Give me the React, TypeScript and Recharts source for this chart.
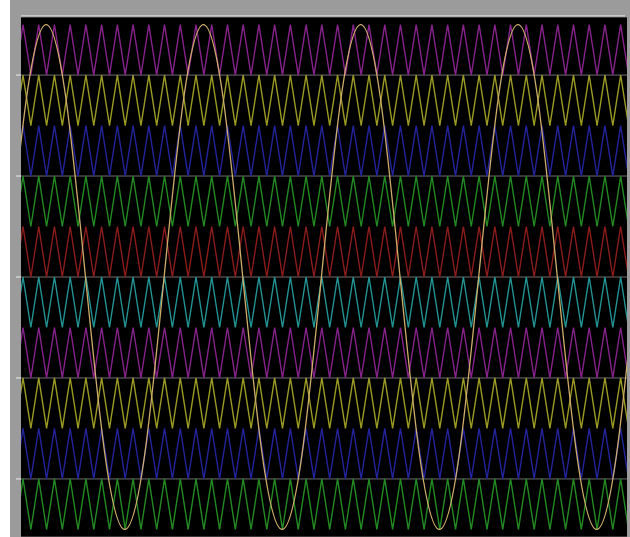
import { LineChart, Line, XAxis, YAxis, CartesianGrid } from "recharts";

// time axis in reference-wave cycles
const tEnd = 3.853;

// triangular carriers: first vertex, half period, vertex count
const carrierStart = -0.0373;
const carrierHalf = 0.05;
const carrierVertexCount = 80;

const bandLow = [0.8, 0.6, 0.4, 0.2, 0, -0.2, -0.4, -0.6, -0.8, -1];
const bandHigh = [1, 0.8, 0.6, 0.4, 0.2, 0, -0.2, -0.4, -0.6, -0.8];
const carrierColors = [
  "#85238a",
  "#9a9a24",
  "#23239a",
  "#238a23",
  "#8a1c1c",
  "#239494",
  "#85238a",
  "#9a9a24",
  "#23239a",
  "#238a23",
];

// reference (modulating) wave, read at every 1/8 cycle
const refTimes = [
  -0.09, 0.035, 0.16, 0.285, 0.41, 0.535, 0.66, 0.785, 0.91, 1.035, 1.16,
  1.285, 1.41, 1.535, 1.66, 1.785, 1.91, 2.035, 2.16, 2.285, 2.41, 2.535, 2.66,
  2.785, 2.91, 3.035, 3.16, 3.285, 3.41, 3.535, 3.66, 3.785, 3.91,
];
const refValues = [
  0, 0.71, 1, 0.71, 0, -0.71, -1, -0.71, 0, 0.71, 1, 0.71, 0, -0.71, -1, -0.71,
  0, 0.71, 1, 0.71, 0, -0.71, -1, -0.71, 0, 0.71, 1, 0.71, 0, -0.71, -1, -0.71,
  0,
];

const yTicks = [0.8, 0.4, 0, -0.4, -0.8];
const xTicks = [0.16, 0.66, 1.16, 1.66, 2.16, 2.66, 3.16, 3.66];

const carriers = bandLow.map((lo, i) =>
  Array.from({ length: carrierVertexCount }, (_, k) => ({
    t: carrierStart + k * carrierHalf,
    v: k % 2 === 0 ? lo : bandHigh[i],
  }))
);
const refData = refTimes.map((t, i) => ({ t, v: refValues[i] }));

export default function App() {
  return (
    <div
      style={{
        position: "absolute",
        left: 0,
        top: 0,
        width: 630,
        height: 537,
        background: "#fff",
        overflow: "hidden",
      }}
    >
      <div
        style={{
          position: "absolute",
          left: 10,
          top: 0,
          width: 620,
          height: 537,
          background: "#9b9b9b",
        }}
      />
      <div
        style={{
          position: "absolute",
          left: 21,
          top: 15,
          width: 604,
          height: 2,
          background: "#c8c8c8",
        }}
      />
      <div style={{ position: "absolute", left: 10, top: 0 }}>
        <LineChart
          width={617}
          height={537}
          margin={{ top: 17, right: 0, bottom: 0, left: 0 }}
        >
          <CartesianGrid
            fill="#000"
            stroke="#8a8a8a"
            strokeOpacity={0.8}
            horizontal={true}
            vertical={false}
          />
          <XAxis
            dataKey="t"
            type="number"
            domain={[0, tEnd]}
            allowDataOverflow
            ticks={xTicks}
            orientation="top"
            height={0}
            mirror
            axisLine={false}
            tickSize={8}
            tickLine={{ stroke: "#d0d0d0" }}
            tickFormatter={() => ""}
          />
          <YAxis
            dataKey="v"
            type="number"
            domain={[-1.03, 1.03]}
            allowDataOverflow
            ticks={yTicks}
            width={11}
            axisLine={false}
            tickSize={5}
            tickLine={{ stroke: "#eeeeee" }}
            tickFormatter={() => ""}
          />
          {carriers.map((d, i) => (
            <Line
              key={i}
              data={d}
              dataKey="v"
              type="linear"
              stroke={carrierColors[i]}
              strokeWidth={1.4}
              dot={false}
              isAnimationActive={false}
            />
          ))}
          <Line
            data={refData}
            dataKey="v"
            type="natural"
            stroke="#cfae6c"
            strokeWidth={1.3}
            dot={false}
            isAnimationActive={false}
          />
        </LineChart>
      </div>
    </div>
  );
}
